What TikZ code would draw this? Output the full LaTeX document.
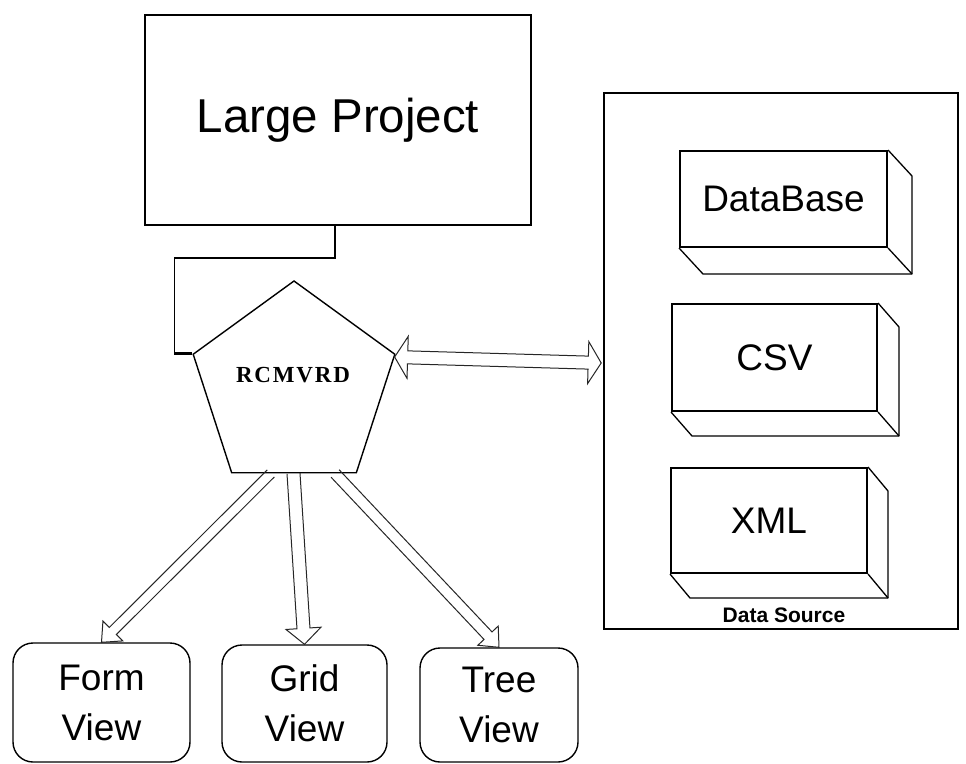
\documentclass[tikz,border=0pt]{standalone}
\usepackage{fontspec}
\setmainfont{Liberation Sans}
\newfontfamily\rcserif[LetterSpace=8]{Liberation Serif}
\usetikzlibrary{calc,shapes.geometric}
\tikzset{
  boxline/.style={draw=black,line width=1.6pt},
  conn/.style={draw=black,line width=1.4pt},
  arr/.style={draw=black!85,line width=1pt,line join=miter},
  frontface/.style={draw=black,line width=2pt,fill=white,inner sep=0pt},
  sideface/.style={draw=black,line width=1.3pt,line join=round},
  viewbox/.style={draw=black,line width=1.4pt,rounded corners=20pt,align=center,
    inner sep=0pt,font=\fontsize{37}{50}\selectfont},
  dbtext/.style={font=\fontsize{37}{44}\selectfont}
}
\newcommand\hollowarrow[5]{%
  \coordinate (hbase) at ($(#2)!#5!(#1)$);
  \draw[arr] ($(#1)!#3!90:(#2)$) -- ($(hbase)!#3!-90:(#1)$) -- ($(hbase)!#4!-90:(#1)$)
    -- (#2) -- ($(hbase)!#4!90:(#1)$) -- ($(hbase)!#3!90:(#1)$) -- ($(#1)!#3!-90:(#2)$);
}
\newcommand\hollowdarrow[5]{%
  \coordinate (hbA) at ($(#1)!#5!(#2)$);
  \coordinate (hbB) at ($(#2)!#5!(#1)$);
  \draw[arr] (#1) -- ($(hbA)!#4!90:(#2)$) -- ($(hbA)!#3!90:(#2)$) -- ($(hbB)!#3!-90:(#1)$)
    -- ($(hbB)!#4!-90:(#1)$) -- (#2) -- ($(hbB)!#4!90:(#1)$) -- ($(hbB)!#3!90:(#1)$)
    -- ($(hbA)!#3!-90:(#2)$) -- ($(hbA)!#4!-90:(#2)$) -- cycle;
}
\newcommand\threed[2]{% node name, depth vector
  \draw[sideface] (#1.north east) -- ($(#1.north east)+(#2)$) -- ($(#1.south east)+(#2)$)
    -- ($(#1.south west)+(#2)$) -- (#1.south west);
  \draw[sideface] (#1.south east) -- ($(#1.south east)+(#2)$);
}
\begin{document}
\begin{tikzpicture}[x=1pt,y=-1pt]
\useasboundingbox (0,0) rectangle (966,763);
\fill[white] (0,0) rectangle (966,763);

% Large Project
\node[boxline,minimum width=386pt,minimum height=210pt,inner sep=0pt,
  font=\fontsize{47.5}{55}\selectfont] (lp) at (338,120) {Large Project};

% RCMVRD pentagon
\node[regular polygon,regular polygon sides=5,minimum size=212pt,inner sep=0pt,
  draw=black,line width=1.4pt] (rc) at (294,387) {};
\node[font=\rcserif\bfseries\fontsize{23}{26}\selectfont] (rct) at (293,375) {RCMVRD};

% connector Large Project -> RCMVRD
\draw[conn] (lp.south) ++(-3,0) -- ++(0,32) -| ($(rc.corner 2)+(-18,0)$) -- (rc.corner 2);
\draw[line width=3pt] ($(rc.corner 2)+(-18,0)$) -- (rc.corner 2);

% Data Source container
\node[boxline,minimum width=354pt,minimum height=536pt,inner sep=0pt] (ds) at (781,361) {};
\node[font=\bfseries\fontsize{21}{24}\selectfont] (dsl) at (784,615) {Data Source};

% 3D boxes
\node[frontface,minimum width=207pt,minimum height=96pt] (db) at (783.5,199) {};
\threed{db}{24,26}
\node[dbtext] (dbt) at (db.center) {DataBase};
\node[frontface,minimum width=205pt,minimum height=107pt] (csv) at (774.5,357.5) {};
\threed{csv}{21,24}
\node[dbtext] (csvt) at (csv.center) {CSV};
\node[frontface,minimum width=196pt,minimum height=105pt] (xml) at (769,520.5) {};
\threed{xml}{20,24}
\node[dbtext] (xmlt) at (xml.center) {XML};

% Double arrow RCMVRD <-> Data Source
\coordinate (dL) at ($(rc.corner 5)+(-1,3)$);
\coordinate (dR) at ($(ds.west |- dL)+(-2,6)$);
\hollowdarrow{dL}{dR}{6.5pt}{21pt}{13pt}

% View boxes
\node[viewbox,minimum width=177pt,minimum height=119pt] (form) at (101.5,702.5) {Form\\View};
\node[viewbox,minimum width=165pt,minimum height=117pt] (grid) at (304.5,703.5) {Grid\\View};
\node[viewbox,minimum width=158pt,minimum height=114pt] (tree) at (499,705) {Tree\\View};

% arrows to views
\coordinate (sF) at ($(rc.corner 3)!0.315!(rc.corner 4)$);
\coordinate (sG) at ($(rc.corner 3)!0.496!(rc.corner 4)$);
\coordinate (sT) at ($(rc.corner 3)!0.827!(rc.corner 4)$);
\hollowarrow{sF}{form.north}{5pt}{14pt}{16pt}
\hollowarrow{sG}{grid.north}{6.5pt}{17.5pt}{16pt}
\hollowarrow{sT}{tree.north}{5.5pt}{14pt}{16pt}
\end{tikzpicture}
\end{document}
